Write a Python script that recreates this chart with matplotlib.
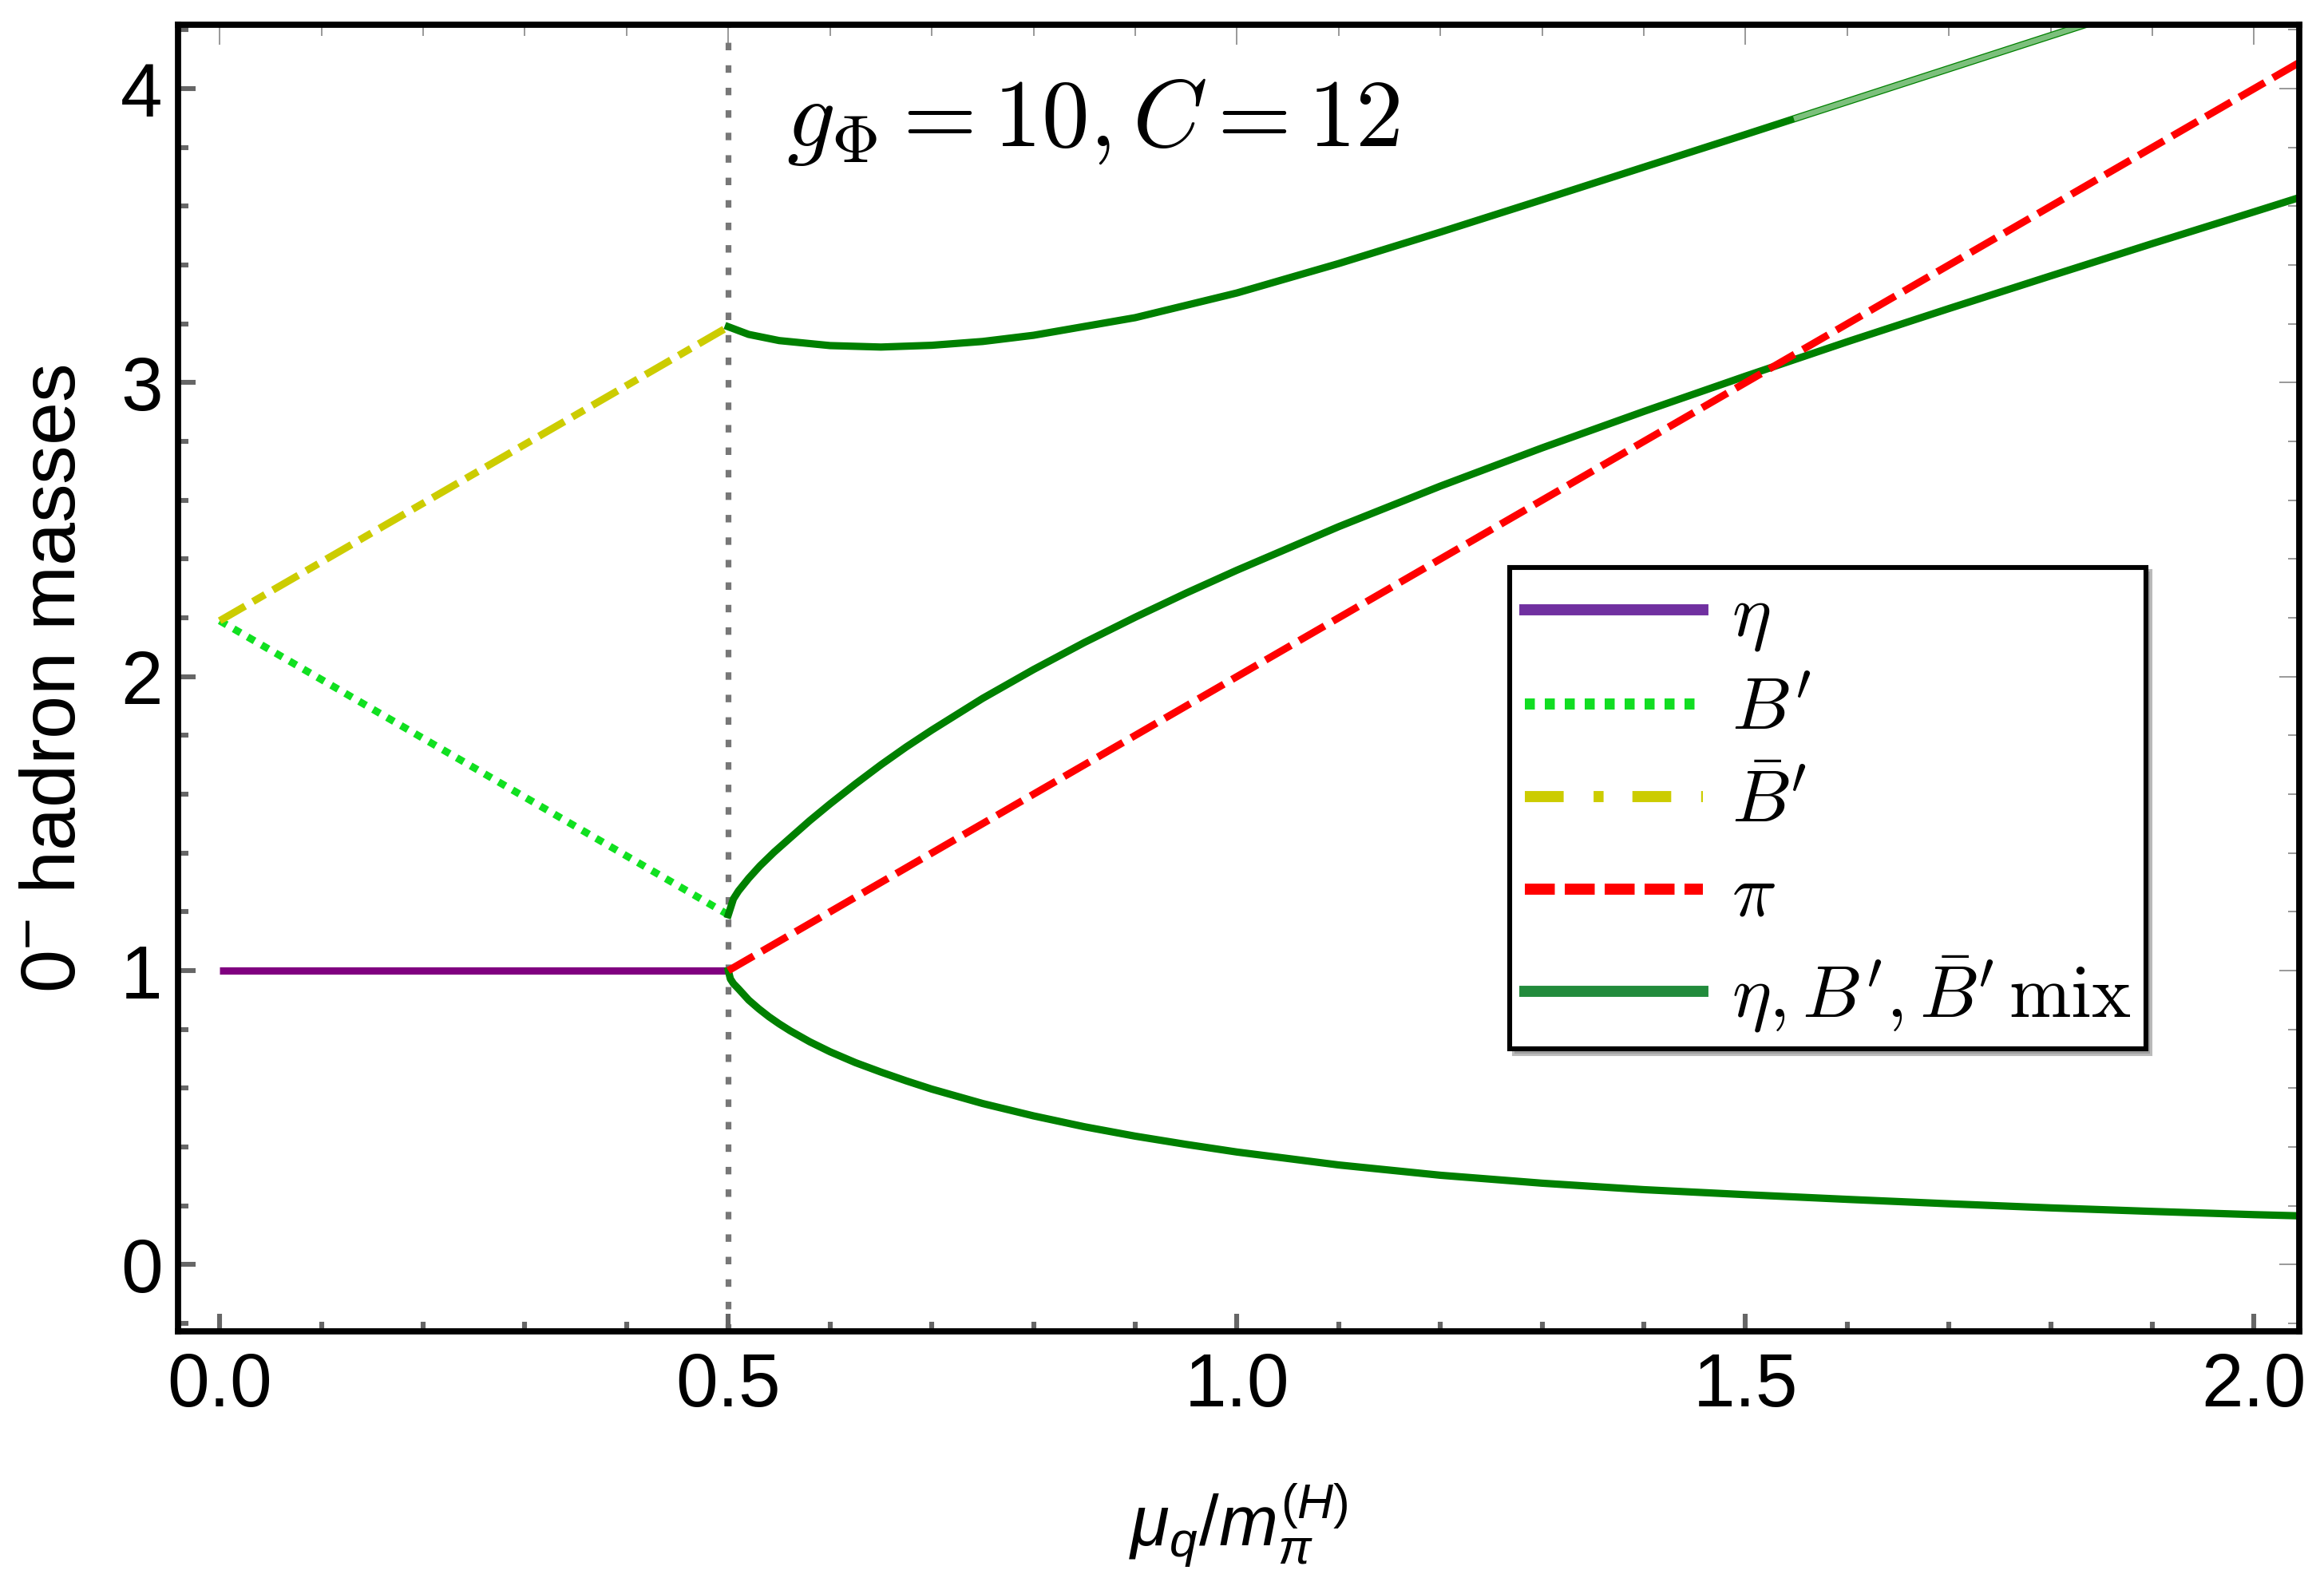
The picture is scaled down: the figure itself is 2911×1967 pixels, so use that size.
import matplotlib
matplotlib.use("Agg")
import matplotlib.pyplot as plt
from matplotlib.lines import Line2D
from matplotlib.ticker import MultipleLocator

plt.rcParams['font.family'] = ['Liberation Sans', 'DejaVu Sans']
plt.rcParams['mathtext.fontset'] = 'custom'
plt.rcParams['mathtext.rm'] = 'Liberation Sans'
plt.rcParams['mathtext.it'] = 'Liberation Sans:italic'
plt.rcParams['mathtext.bf'] = 'Liberation Sans:bold'

# critical chemical potential (dotted vertical line)
mu_crit = 0.5

# unmixed states below mu_crit
mu_eta = [0.0, 0.5]
eta = [1.0, 1.0]
mu_b = [0.0, 0.5]
b_prime = [2.19, 1.19]
b_bar = [2.19, 3.19]

# pion above mu_crit
mu_pi = [0.5, 2.044]
pion = [1.0, 4.088]

# mixed eta / B' / Bbar' branches
mu_up = [0.50, 0.52, 0.55, 0.60, 0.65, 0.70, 0.75, 0.80, 0.90, 1.00, 1.10,
         1.20, 1.30, 1.40, 1.50, 1.55, 1.60, 1.70, 1.80, 1.90]
mix_up = [3.190, 3.164, 3.143, 3.126, 3.121, 3.127, 3.140, 3.161, 3.221, 3.305, 3.405,
          3.512, 3.622, 3.733, 3.844, 3.900, 3.956, 4.068, 4.180, 4.292]

mu_mid = [0.500, 0.505, 0.510, 0.520, 0.531, 0.545, 0.561, 0.580, 0.600, 0.625,
          0.650, 0.675, 0.700, 0.750, 0.800, 0.850, 0.900, 0.950, 1.000, 1.100,
          1.200, 1.300, 1.400, 1.500, 1.600, 1.700, 1.800, 1.900, 2.000, 2.044]
mix_mid = [1.190, 1.244, 1.271, 1.314, 1.356, 1.403, 1.452, 1.510, 1.567, 1.635,
           1.700, 1.761, 1.818, 1.926, 2.024, 2.116, 2.202, 2.284, 2.362, 2.510,
           2.648, 2.778, 2.902, 3.022, 3.139, 3.252, 3.363, 3.473, 3.581, 3.629]

mu_low = [0.500, 0.502, 0.505, 0.510, 0.520, 0.530, 0.540, 0.550, 0.561, 0.580,
          0.600, 0.625, 0.650, 0.675, 0.700, 0.750, 0.800, 0.850, 0.900, 0.950,
          1.000, 1.100, 1.200, 1.300, 1.400, 1.500, 1.600, 1.700, 1.800, 1.900,
          2.000, 2.044]
mix_low = [1.000, 0.972, 0.956, 0.938, 0.900, 0.870, 0.843, 0.819, 0.795, 0.758,
           0.724, 0.687, 0.655, 0.625, 0.597, 0.548, 0.506, 0.469, 0.437, 0.409,
           0.383, 0.339, 0.304, 0.277, 0.255, 0.238, 0.222, 0.207, 0.193, 0.181,
           0.170, 0.166]

# part of the upper branch drawn lighter in the original
fade_from = 1.55

fig = plt.figure(figsize=(14.555, 9.835), dpi=200)
ax = fig.add_axes([0.0766, 0.152, 0.9126, 0.832])

ax.axvline(mu_crit, color='#777777', lw=2.6, dashes=(1.3, 2.6), zorder=1)

ax.plot(mu_b, b_prime, color='#10e020', lw=3.3, dashes=(1.1, 1.1), dash_capstyle='butt')
ax.plot(mu_b, b_bar, color='#cccc00', lw=3.3, dashes=(4.0, 1.25, 1.9, 1.25), dash_capstyle='butt')
ax.plot(mu_eta, eta, color='#800080', lw=3.3, solid_capstyle='butt')

ax.plot(mu_up, mix_up, color='#008000', lw=3.3)
ax.plot(mu_mid, mix_mid, color='#008000', lw=3.3)
ax.plot(mu_low, mix_low, color='#008000', lw=3.3)
fade_x = [m for m in mu_up if m >= fade_from]
fade_y = [v for m, v in zip(mu_up, mix_up) if m >= fade_from]
ax.plot(fade_x, fade_y, color='#7cc07c', lw=2.4)

ax.plot(mu_pi, pion, color='#ff0000', lw=3.3, dashes=(4.0, 1.3), dash_capstyle='butt')

ax.set_xlim(-0.041, 2.044)
ax.set_ylim(-0.227, 4.216)

for sp in ax.spines.values():
    sp.set_linewidth(2.8)
    sp.set_color('black')

ax.xaxis.set_major_locator(MultipleLocator(0.5))
ax.xaxis.set_minor_locator(MultipleLocator(0.1))
ax.yaxis.set_major_locator(MultipleLocator(1))
ax.yaxis.set_minor_locator(MultipleLocator(0.2))
ax.tick_params(which='both', direction='in', color='#666666', width=2.2,
               top=False, right=False, labelsize=34)
ax.tick_params(which='major', length=8)
ax.tick_params(which='minor', length=4.5)
ax.tick_params(axis='x', pad=9)
ax.tick_params(axis='y', pad=7)

# thin ticks on the top and right frame
sec_x = ax.secondary_xaxis('top')
sec_x.xaxis.set_major_locator(MultipleLocator(0.5))
sec_x.xaxis.set_minor_locator(MultipleLocator(0.1))
sec_x.tick_params(which='both', direction='in', color='#999999', width=0.7, labeltop=False)
sec_x.tick_params(which='major', length=9)
sec_x.tick_params(which='minor', length=5)
sec_x.spines['top'].set_visible(False)
sec_y = ax.secondary_yaxis('right')
sec_y.yaxis.set_major_locator(MultipleLocator(1))
sec_y.yaxis.set_minor_locator(MultipleLocator(0.2))
sec_y.tick_params(which='both', direction='in', color='#999999', width=0.7, labelright=False)
sec_y.tick_params(which='major', length=9)
sec_y.tick_params(which='minor', length=5)
sec_y.spines['right'].set_visible(False)

ax.set_xlabel(r'$\mu_q/m_\pi^{(H)}$', fontsize=32)
ax.set_ylabel(r'0$^{-}$ hadron masses', fontsize=35)
ax.xaxis.set_label_coords(0.5, -0.115)
ax.yaxis.set_label_coords(-0.041, 0.5)

ax.text(0.287, 0.9076, r'$g_{\Phi} = 10, C = 12$', transform=ax.transAxes,
        fontsize=43, va='baseline', ha='left', math_fontfamily='cm')

handles = [
    Line2D([], [], color='#7030a0', lw=5),
    Line2D([], [], color='#11dd22', lw=5, dashes=(0.9, 0.9), dash_capstyle='butt'),
    Line2D([], [], color='#cccc00', lw=5, dashes=(3.5, 2.7, 0.9, 2.6), dash_capstyle='butt'),
    Line2D([], [], color='#ff0000', lw=5, dashes=(2.7, 0.9), dash_capstyle='butt'),
    Line2D([], [], color='#228b3c', lw=5),
]
labels = [r'$\eta$', r"$B'$", r"$\bar{B}'$", r'$\pi$', r"$\eta, B', \bar{B}'\,\mathrm{mix}$"]
leg = ax.legend(handles, labels, loc='upper left', bbox_to_anchor=(0.628, 0.585),
                borderaxespad=0, fontsize=33.5, handlelength=2.4, handletextpad=0.38,
                borderpad=0.2, labelspacing=0.32, fancybox=False, framealpha=1,
                shadow={'color': '0.55', 'alpha': 0.6})
leg.get_frame().set_edgecolor('black')
leg.get_frame().set_linewidth(2.2)
for t in leg.get_texts():
    t.set_math_fontfamily('cm')

fig.savefig('out.png', dpi=200)
